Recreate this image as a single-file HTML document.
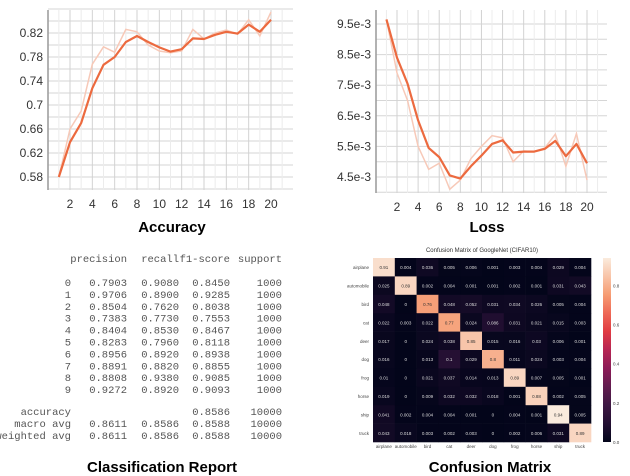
<!DOCTYPE html>
<html><head><meta charset="utf-8"><style>
body{margin:0;background:#fff;width:630px;height:476px;overflow:hidden;font-family:"Liberation Sans",sans-serif}
svg{position:absolute;left:0;top:0}
</style></head><body>
<svg id="s" width="630" height="476"></svg>
<script>
const epochs=[1,2,3,4,5,6,7,8,9,10,11,12,13,14,15,16,17,18,19,20];
const accSmooth=[0.58,0.638,0.67,0.728,0.767,0.78,0.805,0.815,0.805,0.796,0.789,0.793,0.811,0.81,0.817,0.822,0.819,0.834,0.822,0.842];
const accRaw=[0.58,0.66,0.69,0.768,0.797,0.788,0.826,0.822,0.80,0.79,0.787,0.79,0.826,0.81,0.82,0.825,0.818,0.842,0.815,0.855];
const accTicks=[0.58,0.62,0.66,0.7,0.74,0.78,0.82];
const lossSmooth=[9.65,8.4,7.55,6.35,5.45,5.15,4.55,4.45,4.85,5.2,5.58,5.7,5.3,5.33,5.33,5.42,5.68,5.18,5.58,4.95];
const lossRaw=[9.65,7.9,7.0,5.5,4.75,4.95,4.1,4.4,5.1,5.5,5.85,5.78,5.0,5.35,5.33,5.45,5.9,4.85,5.92,4.4];
const lossTicks=[4.5,5.5,6.5,7.5,8.5,9.5];
const xTicks=[2,4,6,8,10,12,14,16,18,20];
const classes=["airplane","automobile","bird","cat","deer","dog","frog","horse","ship","truck"];
const cm=[
[.91,.004,.036,.005,.006,.001,.003,.004,.029,.004],
[.025,.89,.002,.004,.001,.001,.002,.001,.031,.043],
[.048,0,.76,.048,.052,.031,.034,.026,.005,.004],
[.022,.003,.022,.77,.024,.086,.031,.021,.015,.003],
[.017,0,.024,.038,.85,.015,.016,.03,.006,.001],
[.016,0,.013,.1,.029,.8,.011,.024,.003,.004],
[.01,0,.021,.037,.014,.013,.89,.007,.005,.001],
[.019,0,.009,.032,.032,.018,.001,.88,.002,.005],
[.041,.002,.004,.004,.001,0,.004,.001,.94,.005],
[.043,.018,.003,.002,.003,0,.002,.006,.031,.89]];
const cbTicks=[0.0,0.2,0.4,0.6,0.8];
const repRows=[["0","0.7903","0.9080","0.8450","1000"],["1","0.9706","0.8900","0.9285","1000"],["2","0.8504","0.7620","0.8038","1000"],["3","0.7383","0.7730","0.7553","1000"],["4","0.8404","0.8530","0.8467","1000"],["5","0.8283","0.7960","0.8118","1000"],["6","0.8956","0.8920","0.8938","1000"],["7","0.8891","0.8820","0.8855","1000"],["8","0.8808","0.9380","0.9085","1000"],["9","0.9272","0.8920","0.9093","1000"]];
const repAvg=[["accuracy","","","0.8586","10000"],["macro avg","0.8611","0.8586","0.8588","10000"],["weighted avg","0.8611","0.8586","0.8588","10000"]];

const S=document.getElementById('s');const NS="http://www.w3.org/2000/svg";
function el(t,a,p){const e=document.createElementNS(NS,t);for(const k in a)e.setAttribute(k,a[k]);(p||S).appendChild(e);return e;}
function txt(x,y,s,a,p){const e=el('text',Object.assign({x:x,y:y},a),p);e.textContent=s;return e;}

function lineChart(name,L,R,T,B,xs,ys,raw,sm,ticks,fmt,minorStep,yMin,yMax,title,tx){
  const g=el('g',{});
  
  
  // grid horizontal
  for(let v=yMin;v<=yMax+1e-9;v+=minorStep){const y=ys(v);const l=el('line',{x1:L,x2:R,y1:y,y2:y,stroke:'#d6d6d6','stroke-width':1},g);
    }
  for(let e=0;e<=21;e+=1){const x=xs(e);if(x<L||x>R)continue;const l=el('line',{x1:x,x2:x,y1:T,y2:B,stroke:e%2==0?'#d2d2d2':'#ececec','stroke-width':1},g);
    }
  const ax=el('line',{x1:L,x2:L,y1:T,y2:B,stroke:'#999','stroke-width':1.5},g);
  
  ticks.forEach(v=>{const t=txt(L-5,ys(v)+4,fmt(v),{'font-size':12,'text-anchor':'end',fill:'#333'},g);
    });
  xTicks.forEach(v=>{const t=txt(xs(v),B+18,String(v),{'font-size':12,'text-anchor':'middle',fill:'#333'},g);
    });
  const pr=el('polyline',{points:epochs.map((e,i)=>xs(e)+','+ys(raw[i])).join(' '),fill:'none',stroke:'#f7c9b8','stroke-width':1.5},g);
  
  const ps=el('polyline',{points:epochs.map((e,i)=>xs(e)+','+ys(sm[i])).join(' '),fill:'none',stroke:'#ec6a3f','stroke-width':2.2,'stroke-linejoin':'round'},g);
  
  const t=txt(tx,232,title,{'font-size':15,'font-weight':'bold','text-anchor':'middle',fill:'#000'},g);
  
}
// accuracy
const axs=e=>70+(e-2)*(201/18), ays=v=>177-(v-0.58)*(144/0.24);
lineChart('accuracy-chart',48,293,10,190,axs,ays,accRaw,accSmooth,accTicks,v=>String(+v.toFixed(2)),0.02,0.56,0.86,'Accuracy',172);
// loss
const lxs=e=>397+(e-2)*(190/18), lys=v=>177-(v-4.5)*30.6;
lineChart('loss-chart',376,607,10,193,lxs,lys,lossRaw,lossSmooth,lossTicks,v=>v.toFixed(1)+'e-3',0.5,4.0,9.8,'Loss',487);

// classification report
const rep=el('g',{'font-family':'"Liberation Mono",monospace','font-size':10.5,fill:'#555'});

const cols=[71,127,179,230,282];
["precision","recall","f1-score","support"].forEach((h,i)=>{const t=txt(cols[i+1],262,h,{'text-anchor':'end'},rep);
  });
repRows.forEach((r,j)=>r.forEach((c,i)=>{const t=txt(cols[i],286+j*11.9,c,{'text-anchor':'end'},rep);
  }));
repAvg.forEach((r,j)=>r.forEach((c,i)=>{if(!c)return;const t=txt(cols[i],179+0+j*12+0+236,c,{'text-anchor':'end'},rep);
  }));
const rt=txt(162,472,'Classification Report',{'font-size':15,'font-weight':'bold','text-anchor':'middle',fill:'#000'});


// confusion matrix
const stops=[[0,[3,5,26]],[0.1,[35,15,50]],[0.25,[76,29,75]],[0.45,[161,26,91]],[0.62,[232,63,63]],[0.8,[246,156,115]],[1,[250,235,221]]];
function cmap(v){v=Math.max(0,Math.min(1,v/0.94));for(let i=1;i<stops.length;i++){if(v<=stops[i][0]){const a=stops[i-1],b=stops[i];const f=(v-a[0])/(b[0]-a[0]);
  return 'rgb('+a[1].map((c,k)=>Math.round(c+(b[1][k]-c)*f)).join(',')+')';}}return 'rgb(250,235,221)';}
const mg=el('g',{});
const mL=373,mR=591,mT=258,mB=442,cw=(mR-mL)/10,ch=(mB-mT)/10;
const ct=txt(482,252,'Confusion Matrix of GoogleNet (CIFAR10)',{'font-size':6,'text-anchor':'middle',fill:'#333'},mg);

cm.forEach((row,r)=>row.forEach((v,c)=>{
  const rc=el('rect',{x:mL+c*cw,y:mT+r*ch,width:cw+0.3,height:ch+0.3,fill:cmap(v)},mg);
  
  const t=txt(mL+c*cw+cw/2,mT+r*ch+ch/2+2,String(v).replace(/^0\./,'0.'),{'font-size':4.5,'text-anchor':'middle',fill:v>0.5?'#333':'#ddd'},mg);
  
}));
classes.forEach((n,i)=>{
  const a=txt(mL-4,mT+i*ch+ch/2+2,n,{'font-size':4.5,'text-anchor':'end',fill:'#444'},mg);
  
  const b=txt(mL+i*cw+cw/2,448,n,{'font-size':4.5,'text-anchor':'middle',fill:'#444'},mg);
  
});
const defs=el('defs',{});const lg=el('linearGradient',{id:'cb',x1:0,y1:1,x2:0,y2:0},defs);
for(let i=0;i<=10;i++)el('stop',{offset:i/10,'stop-color':cmap(i/10*0.94)},lg);
const cb=el('rect',{x:603,y:mT,width:8,height:mB-mT,fill:'url(#cb)'},mg);

cbTicks.forEach(v=>{const y=mB-(v/0.94)*(mB-mT);const t=txt(613,y+2,v.toFixed(1),{'font-size':4.5,fill:'#444'},mg);
  });
const mt=txt(490,472,'Confusion Matrix',{'font-size':15,'font-weight':'bold','text-anchor':'middle',fill:'#000'});

</script>
</body></html>
